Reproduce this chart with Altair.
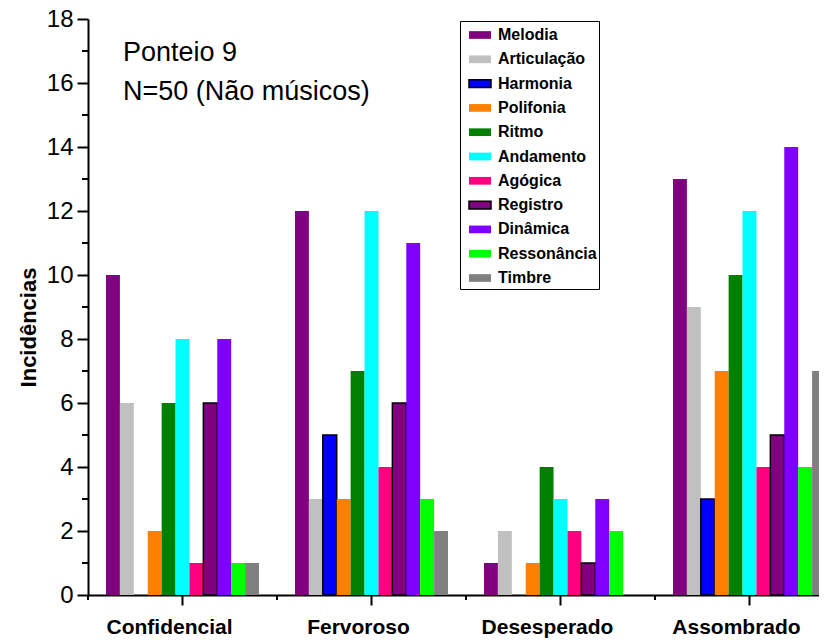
import altair as alt
import pandas as pd

categories = ["Confidencial", "Fervoroso", "Desesperado", "Assombrado"]
attributes = ["Melodia", "Articulação", "Harmonia", "Polifonia", "Ritmo", "Andamento",
              "Agógica", "Registro", "Dinâmica", "Ressonância", "Timbre"]
confidencial = [10, 6, 0, 2, 6, 8, 1, 6, 8, 1, 1]
fervoroso = [12, 3, 5, 3, 7, 12, 4, 6, 11, 3, 2]
desesperado = [1, 2, 0, 1, 4, 3, 2, 1, 3, 2, 0]
assombrado = [13, 9, 3, 7, 10, 12, 4, 5, 14, 4, 7]
fill_colors = ["#800080", "#C0C0C0", "#0000FF", "#FF8000", "#008000", "#00FFFF",
               "#FF0080", "#800080", "#8000FF", "#00FF00", "#808080"]
stroke_colors = ["transparent", "transparent", "black", "transparent", "transparent", "transparent",
                 "transparent", "black", "transparent", "transparent", "transparent"]
y_major = [0, 2, 4, 6, 8, 10, 12, 14, 16, 18]
y_minor = [1, 3, 5, 7, 9, 11, 13, 15, 17]
annotations = ["Ponteio 9", "N=50 (Não músicos)"]

FONT = "Liberation Sans"
W, H = 731, 576

rows = []
for cat, vals in zip(categories, [confidencial, fervoroso, desesperado, assombrado]):
    for a, v in zip(attributes, vals):
        rows.append({"cat": cat, "attr": a, "v": v})
df = pd.DataFrame(rows)

legend = alt.Legend(
    title=None, orient="none", legendX=372, legendY=2,
    strokeColor="black", fillColor="white", padding=2, symbolOffset=6,
    symbolType="M-1,-0.35H1V0.35H-1Z", symbolSize=484, symbolStrokeWidth=1.5,
    labelFont=FONT, labelFontWeight="bold", labelFontSize=16, labelColor="black",
    rowPadding=2.4 + 1.9, labelOffset=6, labelLimit=300, cornerRadius=0,
)

xscale = alt.Scale(domain=categories, range=[0, 756], paddingInner=0, paddingOuter=0)
yscale = alt.Scale(domain=[0, 18], nice=False, zero=True)

bars = alt.Chart(df).transform_filter("datum.v > 0").mark_bar(strokeWidth=1.5, opacity=1).encode(
    x=alt.X("cat:N", scale=xscale, sort=categories, title=None,
            axis=alt.Axis(labelFont=FONT, labelFontWeight="bold", labelFontSize=21,
                          labelColor="black", labelAngle=0, labelOffset=-13, labelPadding=11,
                          tickSize=10, tickWidth=2, tickColor="black",
                          domainColor="black", domainWidth=2, grid=False)),
    xOffset=alt.XOffset("attr:N", sort=attributes,
                        scale=alt.Scale(domain=attributes, range=[18, 171],
                                        paddingInner=0, paddingOuter=0)),
    y=alt.Y("v:Q", scale=yscale, title="Incidências",
            axis=alt.Axis(values=y_major, labelFont=FONT, labelFontSize=24, labelColor="black",
                          labelPadding=4, tickSize=11, tickWidth=2, tickColor="black",
                          domainColor="black", domainWidth=2, grid=False,
                          titleFont=FONT, titleFontWeight="bold", titleFontSize=22,
                          titleColor="black", titleX=-53, titleY=308,
                          titleBaseline="alphabetic", titleAngle=-90)),
    fill=alt.Fill("attr:N", sort=attributes,
                  scale=alt.Scale(domain=attributes, range=fill_colors), legend=legend),
    stroke=alt.Stroke("attr:N", sort=attributes,
                      scale=alt.Scale(domain=attributes, range=stroke_colors), legend=legend),
)

ymin_df = pd.DataFrame({"v": y_minor})
yminor = alt.Chart(ymin_df).mark_rule(color="black", strokeWidth=2).encode(
    y=alt.Y("v:Q", scale=yscale),
    x=alt.value(-6), x2=alt.value(0),
)

xmin_df = pd.DataFrame({"cat": categories})
xminor = alt.Chart(xmin_df).mark_rule(color="black", strokeWidth=2).encode(
    x=alt.X("cat:N", scale=xscale, bandPosition=0),
    y=alt.value(H), y2=alt.value(H + 5),
)

ann_df = pd.DataFrame({"t": annotations, "row": [0, 1]})
ann1 = alt.Chart(ann_df).transform_filter("datum.row == 0").mark_text(
    align="left", baseline="alphabetic", font=FONT, fontSize=27, color="black"
).encode(text="t:N", x=alt.value(35), y=alt.value(42))
ann2 = alt.Chart(ann_df).transform_filter("datum.row == 1").mark_text(
    align="left", baseline="alphabetic", font=FONT, fontSize=27, color="black"
).encode(text="t:N", x=alt.value(35), y=alt.value(81))

chart = alt.layer(bars, yminor, xminor, ann1, ann2).properties(
    width=W, height=H,
    autosize=alt.AutoSizeParams(type="none"),
    padding={"left": 80, "top": 11, "right": 0, "bottom": 43},
).configure_view(stroke=None).configure_axis(grid=False)

chart.save("out.html", embed_options={"renderer": "svg", "actions": False})
